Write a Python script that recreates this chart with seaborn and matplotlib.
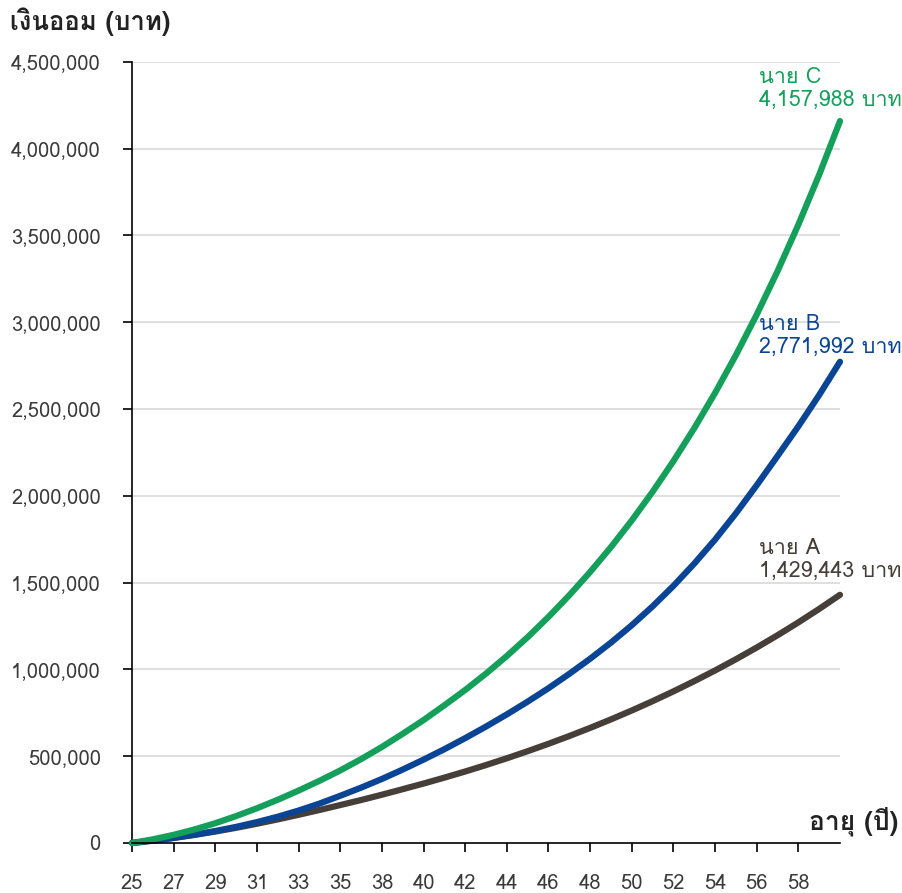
import matplotlib
matplotlib.use("Agg")
import matplotlib.pyplot as plt
from matplotlib.ticker import FuncFormatter
import pandas as pd
import seaborn as sns

# Data (savings in baht, one value per year of age)
ages = list(range(25, 60))
savings_a = [0, 13500, 29000, 46500, 66000, 87500, 111000, 136000, 162500, 190000,
             218500, 247500, 278000, 310000, 342400, 376400, 411800, 449000, 488000, 528700,
             571400, 616100, 662900, 711900, 763200, 816900, 873200, 932100, 993700, 1058200,
             1125800, 1196500, 1270600, 1348200, 1429443]
savings_b = [0, 14000, 29900, 48100, 69000, 92900, 120300, 151500, 186900, 226900,
             271900, 318800, 368800, 423000, 480300, 540200, 604000, 670600, 740700, 814200,
             891600, 974300, 1061200, 1154100, 1254200, 1363000, 1480800, 1609200, 1747500, 1898500,
             2060500, 2229000, 2400000, 2580200, 2771992]
savings_c = [0, 21000, 47000, 78000, 114000, 155000, 200000, 249000, 302000, 358000,
             418000, 483000, 553000, 629000, 708000, 793100, 881200, 975700, 1077000, 1185600,
             1302100, 1426900, 1560800, 1704200, 1858000, 2022800, 2199500, 2388900, 2592100, 2809800,
             3043200, 3293400, 3561500, 3849000, 4157988]

people = ["นาย A", "นาย B", "นาย C"]
end_labels = ["1,429,443 บาท", "2,771,992 บาท", "4,157,988 บาท"]
xtick_ages = list(range(25, 58, 2))
xtick_labels = ["25", "27", "29", "31", "33", "35", "38", "40", "42",
                "44", "46", "48", "50", "52", "54", "56", "58"]
ytick_values = list(range(0, 4500001, 500000))

colors = ["#463e38", "#0a4595", "#14a05a"]
# offset (points) from the line end to the baseline of the second text line
label_offsets = [(-58, 13), (-58, 6.5), (-58, 11)]

df = pd.DataFrame({
    "age": ages * 3,
    "savings": savings_a + savings_b + savings_c,
    "person": [p for p in people for _ in ages],
})

sns.set_style("white")
plt.rcParams["font.family"] = ["Loma", "DejaVu Sans"]

fig = plt.figure(figsize=(9.02, 8.93), dpi=100)
ax = fig.add_axes([132 / 902, 50 / 893, 708 / 902, 781.3 / 893])

for y in ytick_values[1:]:
    ax.axhline(y, color="#d9d9d9", lw=1.2, zorder=0)

sns.lineplot(data=df, x="age", y="savings", hue="person", hue_order=people,
             palette=colors, lw=4.5, legend=False, ax=ax, zorder=3)
for line in ax.get_lines()[-3:]:
    line.set_solid_capstyle("round")
    line.set_clip_on(False)

ax.set_xlim(ages[0], ages[-1])
ax.set_ylim(0, 4500000)
ax.set_xticks(xtick_ages)
ax.set_xticklabels(xtick_labels)
ax.set_yticks(ytick_values)
ax.yaxis.set_major_formatter(FuncFormatter(lambda v, _: f"{int(v):,}"))
ax.set_xlabel("")
ax.set_ylabel("")

for side in ["top", "right"]:
    ax.spines[side].set_visible(False)
for side in ["left", "bottom"]:
    ax.spines[side].set_color("black")
    ax.spines[side].set_linewidth(1.2)
ax.spines["bottom"].set_zorder(4)

ax.tick_params(axis="both", bottom=True, left=True, direction="out", length=6.5,
               width=1.2, color="black", labelsize=14.5, labelcolor="#3a3a3a", pad=16)
ax.grid(False)

series = [savings_a, savings_b, savings_c]
for name, label, vals, col, off in zip(people, end_labels, series, colors, label_offsets):
    ax.annotate(f"{name}\n{label}", xy=(ages[-1], vals[-1]), xytext=off,
                textcoords="offset points", ha="left", va="baseline",
                fontsize=15.5, color=col, linespacing=1.1, annotation_clip=False)

fig.text(10 / 902, 1 - 30 / 893, "เงินออม (บาท)", fontsize=18.5, fontweight="bold",
         color="#222222", ha="left", va="baseline")
fig.text(898 / 902, 1 - 829 / 893, "อายุ (ปี)", fontsize=19, fontweight="bold",
         color="#222222", ha="right", va="baseline")

fig.savefig("out.png", dpi=100)
